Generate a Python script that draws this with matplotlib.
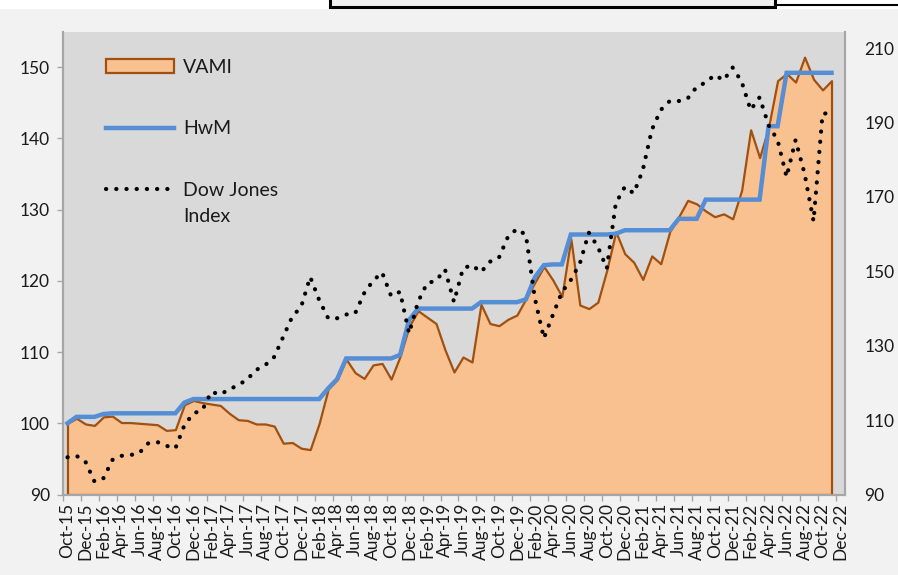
import numpy as np
import pandas as pd
import matplotlib
matplotlib.use("Agg")
import matplotlib.pyplot as plt
from matplotlib.lines import Line2D
from matplotlib.patches import Patch, Rectangle

plt.rcParams["font.family"] = ["Lato", "DejaVu Sans"]

# =====================
# Dati
# =====================
months = pd.date_range("2015-10-01", "2022-12-01", freq="MS")
month_labels = list(months.strftime("%b-%y"))

vami = [
    100.0, 100.7, 99.9, 99.7, 100.9, 101.0, 100.1, 100.1, 100.0, 99.9,
    99.8, 99.0, 99.1, 102.6, 103.2, 102.9, 102.7, 102.5, 101.4, 100.5,
    100.4, 99.9, 99.9, 99.6, 97.2, 97.3, 96.5, 96.3, 100.0, 104.8,
    106.1, 109.0, 107.1, 106.3, 108.2, 108.4, 106.2, 109.4, 113.6, 115.8,
    114.9, 114.0, 110.3, 107.2, 109.3, 108.6, 116.7, 114.0, 113.7, 114.6,
    115.2, 117.5, 119.8, 122.0, 120.1, 117.8, 125.9, 116.6, 116.1, 117.0,
    121.5, 126.9, 123.8, 122.6, 120.2, 123.5, 122.4, 126.9, 129.0, 131.3,
    130.8, 129.8, 129.0, 129.4, 128.7, 132.7, 141.2, 137.3, 141.6, 148.1,
    149.1, 147.9, 151.4, 148.3, 146.8, 148.1,
]

hwm = [
    100.0, 100.9, 100.9, 100.9, 101.3, 101.4, 101.4, 101.4, 101.4, 101.4,
    101.4, 101.4, 101.4, 102.9, 103.4, 103.4, 103.4, 103.4, 103.4, 103.4,
    103.4, 103.4, 103.4, 103.4, 103.4, 103.4, 103.4, 103.4, 103.4, 104.9,
    106.2, 109.1, 109.1, 109.1, 109.1, 109.1, 109.1, 109.6, 114.5, 116.1,
    116.1, 116.1, 116.1, 116.1, 116.1, 116.1, 117.0, 117.0, 117.0, 117.0,
    117.0, 117.4, 120.5, 122.2, 122.3, 122.3, 126.5, 126.5, 126.5, 126.5,
    126.5, 126.6, 127.1, 127.1, 127.1, 127.1, 127.1, 127.1, 128.7, 128.7,
    128.7, 131.4, 131.4, 131.4, 131.4, 131.4, 131.4, 131.4, 141.7, 141.7,
    149.2, 149.2, 149.2, 149.2, 149.2, 149.2,
]

dow = [
    100.0, 100.4, 98.8, 93.5, 94.4, 99.3, 100.4, 100.6, 101.2, 103.8,
    104.1, 103.1, 102.4, 108.6, 111.8, 112.7, 117.6, 116.9, 118.3, 119.4,
    121.0, 123.5, 124.8, 127.0, 132.4, 137.8, 140.5, 148.5, 142.3, 137.4,
    137.4, 138.4, 138.7, 144.1, 147.5, 149.7, 143.4, 144.5, 133.3, 141.8,
    146.8, 147.5, 150.5, 141.8, 150.8, 151.7, 149.8, 152.6, 153.7, 159.3,
    161.4, 159.8, 142.7, 132.0, 138.3, 144.4, 147.7, 152.1, 160.4, 156.6,
    150.8, 168.3, 172.7, 171.0, 177.2, 188.0, 193.4, 195.8, 195.8, 196.5,
    199.6, 200.8, 202.8, 201.4, 204.8, 201.0, 193.4, 196.8, 189.3, 185.3,
    175.4, 185.3, 176.3, 163.5, 192.3, 192.8,
]

x = np.arange(len(vami))

# =====================
# Colori
# =====================
FILL = "#F9C190"
EDGE = "#A0500F"
BLUE = "#558ED5"
AXIS_GRAY = "#A6A6A6"
TXT = "#1A1A1A"
DOTS = (0, (0.05, 2.4))

# =====================
# Disegno
# =====================
fig = plt.figure(figsize=(8.98, 5.75), dpi=100, facecolor="#F2F2F2")
ax = fig.add_axes([63 / 898, 1 - 494.5 / 575, 782 / 898, 463 / 575])
ax.set_facecolor("#D9D9D9")

ax.fill_between(x, vami, 90, facecolor=FILL, edgecolor=EDGE,
                linewidth=1.6, zorder=1)
ax.plot(x, hwm, color=BLUE, linewidth=3.2, solid_joinstyle="miter", zorder=2)

ax.set_xlim(-0.5, len(month_labels) - 0.5)
ax.set_ylim(90, 155)
ax.set_yticks(range(90, 151, 10))

ax.set_xticks(range(0, len(month_labels), 2))
ax.set_xticklabels(month_labels[::2], rotation=90, fontsize=12.5, color=TXT)
ax.set_xticks(np.arange(-0.5, len(month_labels) - 1, 2), minor=True)
ax.tick_params(axis="x", which="major", length=0, pad=6)
ax.tick_params(axis="x", which="minor", length=4, width=1, color=AXIS_GRAY)
ax.tick_params(axis="y", length=4.5, width=1, color=AXIS_GRAY, pad=5,
               labelsize=12.5, labelcolor=TXT)

# Asse secondario: Dow Jones
ax2 = ax.twinx()
ax2.plot(x, dow, color="black", linewidth=3.0, linestyle=DOTS,
         dash_capstyle="round", zorder=3)
ax2.set_ylim(90, 214.5)
ax2.set_yticks(range(90, 211, 20))
ax2.tick_params(axis="y", length=0, pad=14, labelsize=12.5, labelcolor=TXT)

for a in (ax, ax2):
    a.spines["top"].set_visible(False)
    for s in ("left", "right", "bottom"):
        a.spines[s].set_color(AXIS_GRAY)
        a.spines[s].set_linewidth(1.5)

# Legenda
handles = [
    Patch(facecolor=FILL, edgecolor=EDGE, linewidth=1.6),
    Line2D([0], [0], color=BLUE, linewidth=3.2),
    Line2D([0], [0], color="black", linewidth=3.0, linestyle=DOTS,
           dash_capstyle="round"),
]
leg = ax2.legend(handles, ["VAMI", "HwM", "Dow Jones"], loc="upper left",
                 bbox_to_anchor=(0.045, 0.958), borderaxespad=0, frameon=False,
                 fontsize=14, handlelength=3.5, handletextpad=0.45,
                 labelspacing=2.3)
for t in leg.get_texts():
    t.set_color(TXT)
ax2.annotate("Index", xy=(0, 0.5), xycoords=leg.get_texts()[2],
             xytext=(0, -26), textcoords="offset pixels",
             ha="left", va="center", fontsize=14, color=TXT, zorder=6)

# Riquadro tagliato in alto
fig.add_artist(Rectangle((0, 1 - 9 / 575), 1, 9 / 575, transform=fig.transFigure,
                         facecolor="white", edgecolor="none"))
fig.add_artist(Rectangle((330 / 898, 1 - 6.5 / 575), 445 / 898, 10 / 575,
                         transform=fig.transFigure, facecolor="#F0F0F0",
                         edgecolor="black", linewidth=2.2))
fig.add_artist(Line2D([775 / 898, 1], [1 - 5 / 575] * 2, color="black",
                      linewidth=1.5, transform=fig.transFigure))

fig.savefig("out.png", dpi=100, facecolor=fig.get_facecolor())
